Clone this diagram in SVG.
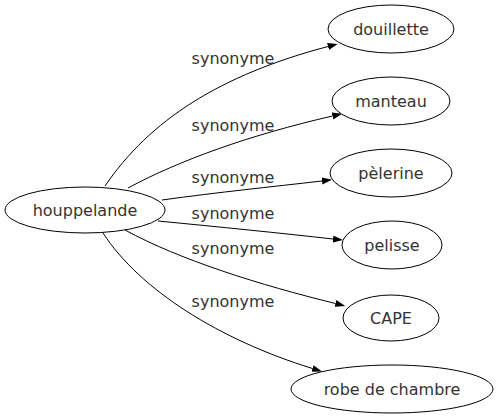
<svg xmlns="http://www.w3.org/2000/svg" width="497" height="419" viewBox="0 0 497 419">
<style>
.n ellipse{fill:#fff;stroke:#000;stroke-width:1}
text{font-family:"DejaVu Sans",sans-serif;font-size:16px;fill:#333;text-anchor:middle}
.e path{fill:none;stroke:#000;stroke-width:1}
</style>
<defs>
<marker id="a" markerUnits="userSpaceOnUse" markerWidth="11" markerHeight="8" refX="0" refY="3.5" orient="auto">
<path d="M0,0 L10,3.5 L0,7 z" fill="#000"/>
</marker>
</defs>
<rect width="497" height="419" fill="#fff"/>
<g class="e" id="edges">
<path d="M105,186 C150,120 220,75 328,46.5" marker-end="url(#a)"/>
<path d="M128,188 C180,160 250,135 332.5,116" marker-end="url(#a)"/>
<path d="M162,200 C220,192 270,187 322,181" marker-end="url(#a)"/>
<path d="M158,221 C220,227 280,233 333,239" marker-end="url(#a)"/>
<path d="M125,230 C180,260 260,285 335.5,303.5" marker-end="url(#a)"/>
<path d="M103,233 C140,290 220,340 312.5,368.5" marker-end="url(#a)"/>
<text x="233" y="64">synonyme</text>
<text x="233" y="131">synonyme</text>
<text x="233" y="183">synonyme</text>
<text x="233" y="219">synonyme</text>
<text x="233" y="254">synonyme</text>
<text x="233" y="307">synonyme</text>
</g>
<g class="n" id="houppelande"><ellipse cx="85" cy="210" rx="80" ry="23"/><text x="85" y="215.5">houppelande</text></g>
<g class="n" id="douillette"><ellipse cx="391" cy="29" rx="63" ry="24"/><text x="391" y="34.5">douillette</text></g>
<g class="n" id="manteau"><ellipse cx="391" cy="101" rx="59" ry="24"/><text x="391" y="106.5">manteau</text></g>
<g class="n" id="pelerine"><ellipse cx="391" cy="173" rx="61" ry="24"/><text x="391" y="178.5">pèlerine</text></g>
<g class="n" id="pelisse"><ellipse cx="392" cy="245" rx="50" ry="24"/><text x="392" y="250.5">pelisse</text></g>
<g class="n" id="cape"><ellipse cx="391" cy="318" rx="48" ry="23"/><text x="391" y="323.5">CAPE</text></g>
<g class="n" id="robe"><ellipse cx="392" cy="389" rx="101" ry="24"/><text x="392" y="394.5">robe de chambre</text></g>
</svg>
